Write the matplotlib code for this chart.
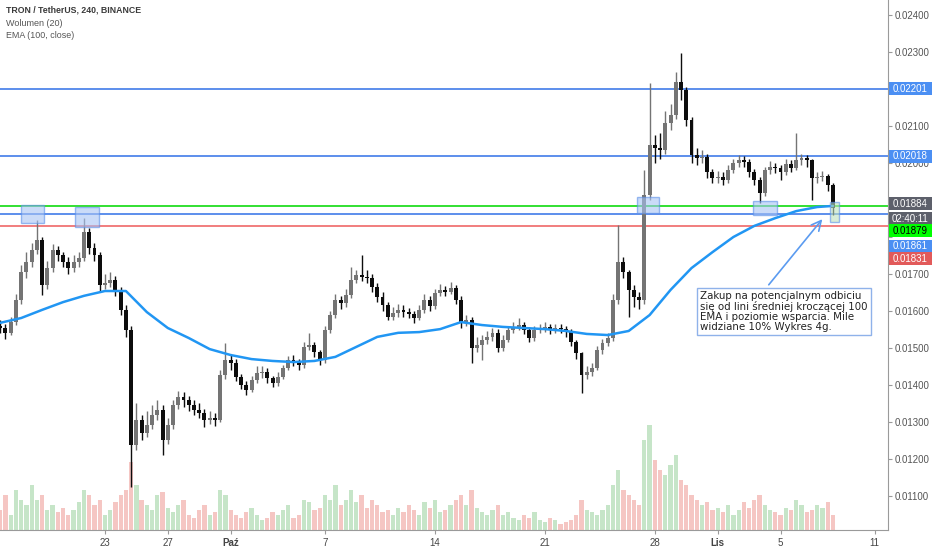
import numpy as np
import pandas as pd
import matplotlib
matplotlib.use("Agg")
import matplotlib.pyplot as plt
import matplotlib.dates as mdates
from matplotlib.patches import Rectangle
from matplotlib.transforms import IdentityTransform

plt.rcParams['font.family'] = ['Liberation Sans', 'DejaVu Sans']

# TRX/USDT 8h candles, prices in 1e-5 USDT
first_open = 1560
close = np.array([
    1554, 1541, 1570, 1630, 1705, 1732, 1765, 1792, 1670, 1716,
    1765, 1751, 1732, 1716, 1732, 1743, 1814, 1770, 1751, 1670,
    1676, 1684, 1657, 1603, 1549, 1238, 1305, 1270, 1292, 1319,
    1332, 1251, 1292, 1346, 1368, 1359, 1346, 1332, 1324, 1305,
    1311, 1305, 1427, 1468, 1459, 1422, 1400, 1387, 1414, 1432,
    1435, 1419, 1405, 1422, 1446, 1468, 1462, 1454, 1503, 1508,
    1489, 1468, 1549, 1589, 1630, 1622, 1643, 1684, 1697, 1692,
    1689, 1665, 1638, 1616, 1584, 1595, 1603, 1597, 1592, 1581,
    1603, 1630, 1614, 1649, 1657, 1651, 1662, 1630, 1570, 1576,
    1500, 1508, 1522, 1530, 1541, 1500, 1522, 1549, 1557, 1562,
    1549, 1527, 1549, 1554, 1556, 1549, 1554, 1552, 1543, 1516,
    1486, 1427, 1435, 1446, 1495, 1514, 1527, 1630, 1732, 1705,
    1657, 1638, 1630, 1914, 2049, 2040, 2035, 2108, 2130, 2219,
    2197, 2116, 2022, 2014, 2016, 1976, 1959, 1962, 1954, 1981,
    2000, 2008, 2003, 1976, 1954, 1919, 1981, 1989, 1986, 1976,
    1997, 1986, 2008, 2014, 2008, 1959, 1962, 1965, 1941, 1879]) / 1e5
high = np.array([
    1575, 1565, 1585, 1645, 1725, 1760, 1785, 1846, 1800, 1735,
    1780, 1775, 1760, 1745, 1750, 1760, 1851, 1825, 1785, 1760,
    1700, 1705, 1695, 1665, 1615, 1560, 1350, 1320, 1330, 1345,
    1360, 1345, 1310, 1360, 1385, 1380, 1370, 1360, 1350, 1335,
    1330, 1325, 1440, 1514, 1480, 1470, 1430, 1410, 1425, 1450,
    1450, 1445, 1425, 1435, 1455, 1478, 1480, 1470, 1515, 1541,
    1515, 1495, 1560, 1600, 1645, 1640, 1660, 1719, 1710, 1751,
    1710, 1700, 1675, 1650, 1625, 1610, 1618, 1615, 1608, 1600,
    1615, 1645, 1640, 1660, 1672, 1668, 1678, 1670, 1640, 1590,
    1585, 1530, 1535, 1545, 1555, 1550, 1535, 1560, 1570, 1581,
    1570, 1556, 1560, 1565, 1570, 1565, 1566, 1565, 1560, 1550,
    1522, 1490, 1450, 1460, 1505, 1525, 1540, 1645, 1832, 1745,
    1712, 1670, 1650, 1981, 2216, 2075, 2080, 2140, 2160, 2245,
    2297, 2205, 2125, 2040, 2035, 2025, 1985, 1978, 1975, 1995,
    2012, 2022, 2018, 2010, 1985, 1962, 1990, 2005, 2000, 1995,
    2010, 2008, 2081, 2025, 2022, 2012, 1975, 1978, 1970, 1945]) / 1e5
low = np.array([
    1540, 1525, 1535, 1562, 1620, 1690, 1720, 1755, 1643, 1660,
    1705, 1735, 1720, 1700, 1705, 1720, 1735, 1755, 1735, 1655,
    1660, 1665, 1640, 1590, 1530, 1124, 1225, 1250, 1260, 1280,
    1305, 1211, 1240, 1280, 1335, 1340, 1330, 1320, 1310, 1286,
    1295, 1290, 1300, 1415, 1440, 1410, 1390, 1373, 1380, 1405,
    1420, 1405, 1395, 1398, 1415, 1440, 1450, 1440, 1445, 1495,
    1475, 1455, 1460, 1540, 1580, 1605, 1610, 1635, 1675, 1680,
    1675, 1650, 1625, 1600, 1575, 1575, 1585, 1585, 1580, 1568,
    1575, 1595, 1600, 1605, 1640, 1640, 1645, 1620, 1555, 1560,
    1459, 1490, 1468, 1510, 1520, 1490, 1492, 1515, 1540, 1548,
    1538, 1515, 1520, 1540, 1542, 1538, 1540, 1540, 1530, 1505,
    1470, 1378, 1415, 1425, 1440, 1485, 1505, 1520, 1620, 1690,
    1584, 1610, 1605, 1620, 1900, 2000, 2010, 2025, 2090, 2120,
    2170, 2100, 2000, 1995, 2000, 1960, 1945, 1945, 1940, 1945,
    1972, 1990, 1990, 1962, 1940, 1892, 1910, 1970, 1972, 1954,
    1968, 1975, 1980, 1995, 1990, 1900, 1945, 1950, 1925, 1859]) / 1e5
volume = np.array([
    20, 35, 15, 40, 30, 25, 45, 30, 35, 20, 25, 18, 22, 15, 20, 28, 40, 35, 25, 30,
    15, 20, 28, 35, 40, 68, 45, 30, 25, 20, 35, 38, 22, 18, 25, 30, 15, 12, 20, 25,
    15, 18, 40, 35, 20, 15, 12, 18, 22, 15, 10, 12, 18, 15, 20, 25, 12, 15, 30, 28,
    20, 22, 35, 30, 45, 25, 30, 40, 28, 35, 22, 30, 25, 18, 20, 15, 22, 18, 25, 20,
    15, 28, 22, 30, 18, 20, 25, 30, 35, 25, 40, 22, 18, 15, 20, 25, 15, 18, 12, 10,
    15, 12, 18, 10, 8, 12, 10, 6, 8, 10, 15, 30, 20, 18, 15, 20, 25, 45, 60, 40,
    35, 30, 25, 90, 105, 70, 60, 55, 65, 75, 50, 45, 35, 30, 25, 28, 20, 22, 18, 25,
    15, 20, 28, 22, 30, 35, 25, 20, 18, 15, 22, 20, 30, 25, 18, 20, 25, 22, 28, 15])
# EMA(100) read every 4th candle plus the last one
ema = np.array([
    1568, 1581, 1603, 1624, 1641, 1654, 1654, 1597, 1554, 1527,
    1497, 1481, 1470, 1465, 1462, 1465, 1476, 1503, 1530, 1541,
    1543, 1551, 1570, 1562, 1557, 1554, 1551, 1546, 1538, 1535,
    1546, 1589, 1657, 1716, 1759, 1800, 1830, 1851, 1870, 1881, 1884]) / 1e5

# horizontal levels
level_prices = [0.02201, 0.02018, 0.01884, 0.01861, 0.01831]
level_colors = ["#4f86ea", "#4f86ea", "#22dd22", "#4f86ea", "#f07373"]

# marked zones: start, end, low, high, face
zones = [
    ("2019-09-17 16:00", "2019-09-19 03:00", 0.01838, 0.018865, "#a8c4f4"),
    ("2019-09-21 02:00", "2019-09-22 15:00", 0.01827, 0.01881, "#a8c4f4"),
    ("2019-10-26 21:00", "2019-10-28 06:30", 0.01865, 0.01908, "#a8c4f4"),
    ("2019-11-03 06:00", "2019-11-04 18:40", 0.018595, 0.018973, "#a8c4f4"),
    ("2019-11-08 03:40", "2019-11-08 17:30", 0.018405, 0.018946, "#bfe3bf"),
]

y_ticks = [0.011, 0.012, 0.013, 0.014, 0.015, 0.016, 0.017,
           0.018, 0.019, 0.020, 0.021, 0.022, 0.023, 0.024]
hidden_ticks = [0.018, 0.019, 0.022]  # sit under the price tags
tick_dates = ["2019-09-23", "2019-09-27", "2019-10-01", "2019-10-07", "2019-10-14",
              "2019-10-21", "2019-10-28", "2019-11-01", "2019-11-05", "2019-11-11"]
tick_labels = ["23", "27", "Paź", "7", "14", "21", "28", "Lis", "5", "11"]

note = ("Zakup na potencjalnym odbiciu\nsię od lini średniej kroczącej 100\n"
        "EMA i poziomie wsparcia. Mile\nwidziane 10% Wykres 4g.")

times = pd.date_range("2019-09-16 08:00", periods=len(close), freq="8h")
t = mdates.date2num(times.to_pydatetime())
opens = np.concatenate([[first_open / 1e5], close[:-1]])
up = close >= opens
ema_t = mdates.date2num(list(times[::4].to_pydatetime()) + [times[-1].to_pydatetime()])

x0 = mdates.date2num(pd.Timestamp("2019-09-16 07:40"))
x1 = mdates.date2num(pd.Timestamp("2019-11-11 20:10"))

fig = plt.figure(figsize=(9.32, 5.5), dpi=100)
rect = [0, 20 / 550, 888 / 932, 530 / 550]
vax = fig.add_axes(rect, zorder=0)
ax = fig.add_axes(rect, zorder=1)
ax.patch.set_visible(False)

# volume
vcol = np.where(up, "#c6e5c8", "#f5c6c3")
vax.bar(t, volume, width=0.27, color=vcol, linewidth=0)
vax.set_xlim(x0, x1)
vax.set_ylim(0, volume.max() * 5.05)
vax.axis("off")

for p, c in zip(level_prices, level_colors):
    ax.axhline(p, color=c, lw=1.3, zorder=1)

ccol = np.where(up, "#747474", "#0d0d0d")
ax.vlines(t, low, high, colors=ccol, lw=1.0, zorder=3)
body = np.maximum(np.abs(close - opens), 0.000012)
ax.bar(t, body, bottom=np.minimum(opens, close), width=0.25, color=ccol,
       linewidth=0, zorder=3)

ax.plot(ema_t, ema, color="#2196f3", lw=1.8, zorder=4, solid_capstyle="round",
        solid_joinstyle="round")

for s, e, lo, hi, fc in zones:
    xs = mdates.date2num(pd.Timestamp(s))
    xe = mdates.date2num(pd.Timestamp(e))
    ax.add_patch(Rectangle((xs, lo), xe - xs, hi - lo, facecolor=fc, alpha=0.6,
                           edgecolor="#5b8fe8", lw=1, zorder=5))

# note with arrow
ax.annotate("", xy=(mdates.date2num(pd.Timestamp("2019-11-07 18:30")), 0.01854),
            xytext=(mdates.date2num(pd.Timestamp("2019-11-04 03:20")), 0.01665),
            arrowprops=dict(arrowstyle="->,head_length=0.7,head_width=0.35",
                            color="#5b9bf0", lw=1.2), zorder=6)
ax.text(mdates.date2num(pd.Timestamp("2019-10-30 21:00")), 0.01653, note,
        fontsize=7.4, family="DejaVu Sans", va="top", ha="left", color="#222222",
        linespacing=0.98,
        bbox=dict(boxstyle="square,pad=0.3", fc="white", ec="#8fb2ea", lw=1),
        zorder=7)

ax.set_xlim(x0, x1)
ax.set_ylim(0.010081, 0.024405)
for sp in ["top", "left"]:
    ax.spines[sp].set_visible(False)
for sp in ["right", "bottom"]:
    ax.spines[sp].set_color("#9a9a9a")
ax.yaxis.tick_right()
ax.set_yticks(y_ticks)
ax.set_yticklabels(["" if v in hidden_ticks else f"{v:.5f}" for v in y_ticks])
ax.set_xticks(mdates.date2num(pd.to_datetime(tick_dates).to_pydatetime()))
ax.set_xticklabels(tick_labels)
for lab in ax.get_xticklabels():
    if lab.get_text() in ("Paź", "Lis"):
        lab.set_fontweight("bold")
ax.tick_params(axis="y", length=3, pad=2, labelsize=7, colors="#9a9a9a",
               labelcolor="#555555")
ax.tick_params(axis="x", length=3, pad=3, labelsize=7, colors="#9a9a9a",
               labelcolor="#444444")

# header texts
fig.text(6 / 932, 1 - 10 / 550, "TRON / TetherUS, 240, BINANCE", fontsize=6.3,
         fontweight="bold", color="#3a3a3a", va="center")
fig.text(6 / 932, 1 - 23 / 550, "Wolumen (20)", fontsize=6.5, color="#555555", va="center")
fig.text(6 / 932, 1 - 36 / 550, "EMA (100, close)", fontsize=6.4, color="#555555", va="center")


# price tags on the right axis
def tag(price, text, fc, tc, shift=0):
    yd = ax.transData.transform((x0, price))[1] - shift
    fig.add_artist(Rectangle((889, yd - 6.5), 43, 13, transform=IdentityTransform(),
                             facecolor=fc, edgecolor="none", zorder=8))
    fig.text(910.5, yd, text, transform=IdentityTransform(), ha="center", va="center",
             fontsize=7, color=tc, zorder=9)


tag(0.02201, "0.02201", "#4b8ff3", "white")
tag(0.02018, "0.02018", "#4b8ff3", "white")
tag(0.01884, "0.01884", "#5d606b", "white", -2)
tag(0.01884, "02:40:11", "#5d606b", "white", 13)
tag(close[-1], f"{close[-1]:.5f}", "#00ff00", "black", 23)
tag(0.01861, "0.01861", "#4b8ff3", "white", 32)
tag(0.01831, "0.01831", "#e25a5a", "white", 33)

fig.savefig("out.png", dpi=100)
